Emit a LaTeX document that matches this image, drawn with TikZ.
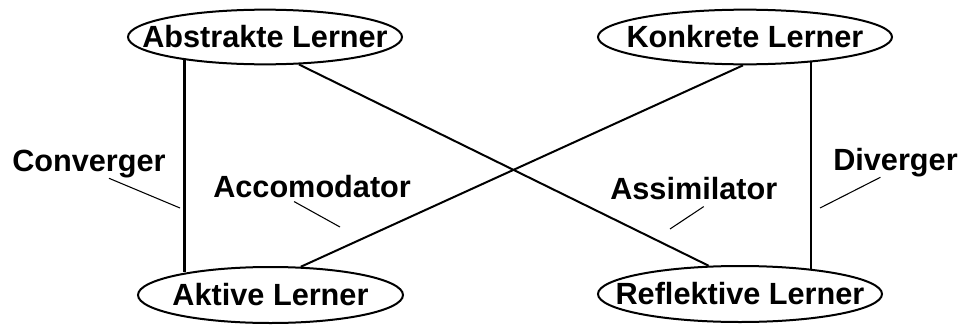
\documentclass[tikz,border=0pt]{standalone}
\usepackage{fontspec}
\setmainfont{Liberation Sans}
\usetikzlibrary{shapes.geometric,calc,backgrounds}
\tikzset{
    lerner/.style={
        ellipse,
        draw=black,
        fill=white,
        line width=1.5pt,
        minimum height=41pt,
        inner sep=0pt,
        font=\fontsize{23}{28}\selectfont\bfseries
    },
    typ/.style={
        inner sep=0pt,
        anchor=base west,
        font=\fontsize{23}{28}\selectfont\bfseries
    },
    axis/.style={
        line width=2pt,
        color=black
    },
    cross/.style={
        line width=1.5pt,
        color=black
    },
    pointer/.style={
        line width=0.8pt,
        color=black
    }
}

\begin{document}
\begin{tikzpicture}[x=0.75pt, y=-0.75pt]
    \useasboundingbox (0,0) rectangle (961,325);

    % Learner ellipses
    \node[lerner, minimum width=205.5pt] (abstrakt) at (265,37) {\makebox[0pt]{Abstrakte Lerner}};
    \node[lerner, minimum width=220.5pt] (konkret) at (745,37) {\makebox[0pt]{Konkrete Lerner}};
    \node[lerner, minimum width=198.75pt, minimum height=42pt] (aktiv) at (270.5,295) {\makebox[0pt]{Aktive Lerner}};
    \node[lerner, minimum width=213pt, minimum height=42pt] (reflektiv) at (740,294) {\makebox[0pt]{Reflektive Lerner}};

    % Learning styles
    \node[typ] (conv) at (12,171) {Converger};
    \node[typ] (acco) at (213,197) {Accomodator};
    \node[typ] (assi) at (610,199) {Assimilator};
    \node[typ] (div) at (833,170) {Diverger};

    \coordinate (convpt) at (180,208);
    \coordinate (accopt) at (340,227);
    \coordinate (assipt) at (670,229);
    \coordinate (divpt) at (820,208);

    % Connections (under the ellipses)
    \begin{scope}[on background layer]
        \draw[axis] (abstrakt.196) -- (abstrakt.196 |- aktiv.165);
        \draw[axis] (konkret.-21) -- (konkret.-21 |- reflektiv.20);
        \draw[cross] (abstrakt.-39) -- (reflektiv.138);
        \draw[cross] (konkret.-94) -- (aktiv.43);
    \end{scope}

    % Pointers
    \draw[pointer] ($(conv.south)+(20,0.5)$) -- (convpt);
    \draw[pointer] ($(acco.south)+(-18,4)$) -- (accopt);
    \draw[pointer] ($(assi.south)+(10,7)$) -- (assipt);
    \draw[pointer] ($(div.south)+(-15,0.5)$) -- (divpt);
\end{tikzpicture}
\end{document}
